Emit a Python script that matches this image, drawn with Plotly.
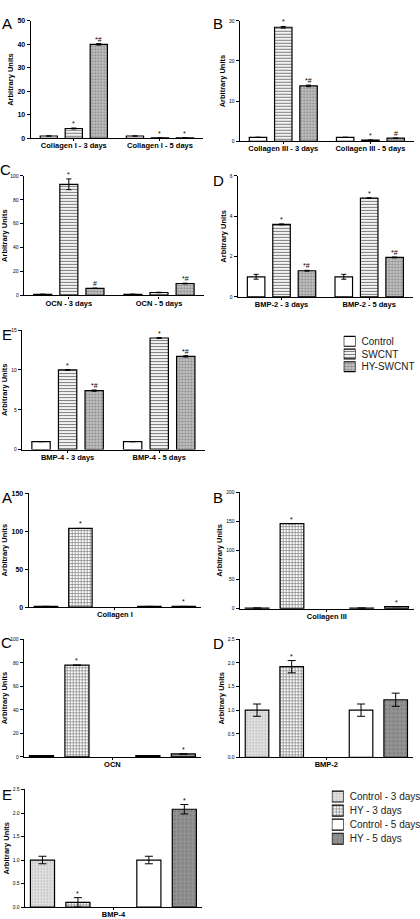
import plotly.graph_objects as go

W, H = 420, 919
FONT = "Arial, 'Liberation Sans', sans-serif"

# ================= Upper figure: Control / SWCNT / HY-SWCNT =================
upper_series = ["Control", "SWCNT", "HY-SWCNT"]

col1_cats = ["Collagen I - 3 days", "Collagen I - 5 days"]
col1_control = [1.0, 1.0]
col1_swcnt = [4.2, 0.2]
col1_hy = [40.0, 0.2]
col1_err_control = [0.0, 0.0]
col1_err_swcnt = [0.2, 0.0]
col1_err_hy = [0.3, 0.0]
col1_marks_control = ["", ""]
col1_marks_swcnt = ["*", "*"]
col1_marks_hy = ["*#", "*"]
col1_ticks = [0, 10, 20, 30, 40, 50]

col3_cats = ["Collagen III - 3 days", "Collagen III - 5 days"]
col3_control = [1.0, 1.0]
col3_swcnt = [28.4, 0.3]
col3_hy = [13.8, 0.8]
col3_err_control = [0.0, 0.0]
col3_err_swcnt = [0.2, 0.0]
col3_err_hy = [0.2, 0.0]
col3_marks_control = ["", ""]
col3_marks_swcnt = ["*", "*"]
col3_marks_hy = ["*#", "#"]
col3_ticks = [0, 10, 20, 30]

ocn_cats = ["OCN - 3 days", "OCN - 5 days"]
ocn_control = [1.0, 1.0]
ocn_swcnt = [93.0, 2.5]
ocn_hy = [6.0, 10.0]
ocn_err_control = [0.0, 0.0]
ocn_err_swcnt = [4.5, 0.2]
ocn_err_hy = [0.2, 0.3]
ocn_marks_control = ["", ""]
ocn_marks_swcnt = ["*", ""]
ocn_marks_hy = ["#", "*#"]
ocn_ticks = [0, 20, 40, 60, 80, 100]

bmp2_cats = ["BMP-2 - 3 days", "BMP-2 - 5 days"]
bmp2_control = [1.0, 1.0]
bmp2_swcnt = [3.6, 4.9]
bmp2_hy = [1.3, 1.96]
bmp2_err_control = [0.12, 0.12]
bmp2_err_swcnt = [0.02, 0.02]
bmp2_err_hy = [0.02, 0.02]
bmp2_marks_control = ["", ""]
bmp2_marks_swcnt = ["*", "*"]
bmp2_marks_hy = ["*#", "*#"]
bmp2_ticks = [0, 2, 4, 6]

bmp4_cats = ["BMP-4 - 3 days", "BMP-4 - 5 days"]
bmp4_control = [1.0, 1.0]
bmp4_swcnt = [10.0, 14.0]
bmp4_hy = [7.4, 11.7]
bmp4_err_control = [0.0, 0.0]
bmp4_err_swcnt = [0.05, 0.05]
bmp4_err_hy = [0.08, 0.08]
bmp4_marks_control = ["", ""]
bmp4_marks_swcnt = ["*", "*"]
bmp4_marks_hy = ["*#", "*#"]
bmp4_ticks = [0, 5, 10, 15]

# ================= Lower figure: Control / HY at 3 and 5 days =================
lower_series = ["Control - 3 days", "HY - 3 days", "Control - 5 days", "HY - 5 days"]

l_col1_label = "Collagen I"
l_col1_values = [1.0, 103.5, 1.0, 1.0]
l_col1_errors = [0.0, 0.0, 0.0, 0.0]
l_col1_marks = ["", "*", "", "*"]
l_col1_ticks = [0, 50, 100, 150]

l_col3_label = "Collagen III"
l_col3_values = [1.0, 146.0, 1.0, 3.5]
l_col3_errors = [0.0, 0.0, 0.0, 0.0]
l_col3_marks = ["", "*", "", "*"]
l_col3_ticks = [0, 50, 100, 150, 200]

l_ocn_label = "OCN"
l_ocn_values = [1.0, 78.0, 1.0, 2.5]
l_ocn_errors = [0.0, 0.0, 0.0, 0.0]
l_ocn_marks = ["", "*", "", "*"]
l_ocn_ticks = [0, 20, 40, 60, 80, 100]

l_bmp2_label = "BMP-2"
l_bmp2_values = [1.0, 1.92, 1.0, 1.22]
l_bmp2_errors = [0.13, 0.13, 0.13, 0.14]
l_bmp2_marks = ["", "*", "", ""]
l_bmp2_ticks = [0.0, 0.5, 1.0, 1.5, 2.0, 2.5]

l_bmp4_label = "BMP-4"
l_bmp4_values = [1.0, 0.1, 1.0, 2.08]
l_bmp4_errors = [0.08, 0.1, 0.08, 0.1]
l_bmp4_marks = ["", "*", "", "*"]
l_bmp4_ticks = [0.0, 0.5, 1.0, 1.5, 2.0, 2.5]

# ---------------- styles ----------------
OUTLINE = dict(color="black", width=1.2)
upper_styles = [
    dict(color="white", line=OUTLINE),
    dict(color="white", line=OUTLINE,
         pattern=dict(shape="-", fgcolor="black", bgcolor="white", size=3, solidity=0.4)),
    dict(color="#c4c4c4", line=OUTLINE,
         pattern=dict(shape=".", fgcolor="#474747", bgcolor="#c2c2c2", size=3, solidity=0.35)),
]
lower_styles = [
    dict(color="#e2e2e2", line=OUTLINE,
         pattern=dict(shape=".", fgcolor="#8a8a8a", bgcolor="#e6e6e6", size=3, solidity=0.35)),
    dict(color="white", line=OUTLINE,
         pattern=dict(shape="+", fgcolor="#111111", bgcolor="white", size=3, solidity=0.45)),
    dict(color="white", line=OUTLINE),
    dict(color="#8c8c8c", line=OUTLINE,
         pattern=dict(shape=".", fgcolor="#6a6a6a", bgcolor="#939393", size=4, solidity=0.3)),
]

# panel boxes in pixels: (left, right, top, bottom) of the axes
upper_panels = [
    dict(letter="A", lpos=(0, 20), cats=col1_cats,
         vals=[col1_control, col1_swcnt, col1_hy],
         errs=[col1_err_control, col1_err_swcnt, col1_err_hy],
         marks=[col1_marks_control, col1_marks_swcnt, col1_marks_hy],
         ticks=col1_ticks, bold=True, box=(31, 205, 17, 136)),
    dict(letter="B", lpos=(213, 20), cats=col3_cats,
         vals=[col3_control, col3_swcnt, col3_hy],
         errs=[col3_err_control, col3_err_swcnt, col3_err_hy],
         marks=[col3_marks_control, col3_marks_swcnt, col3_marks_hy],
         ticks=col3_ticks, bold=False, box=(242, 418, 17, 139)),
    dict(letter="C", lpos=(-2, 167), cats=ocn_cats,
         vals=[ocn_control, ocn_swcnt, ocn_hy],
         errs=[ocn_err_control, ocn_err_swcnt, ocn_err_hy],
         marks=[ocn_marks_control, ocn_marks_swcnt, ocn_marks_hy],
         ticks=ocn_ticks, bold=False, box=(24, 206, 174, 295)),
    dict(letter="D", lpos=(213, 179), cats=bmp2_cats,
         vals=[bmp2_control, bmp2_swcnt, bmp2_hy],
         errs=[bmp2_err_control, bmp2_err_swcnt, bmp2_err_hy],
         marks=[bmp2_marks_control, bmp2_marks_swcnt, bmp2_marks_hy],
         ticks=bmp2_ticks, bold=False, box=(240, 417, 174, 296.5)),
    dict(letter="E", lpos=(0, 335), cats=bmp4_cats,
         vals=[bmp4_control, bmp4_swcnt, bmp4_hy],
         errs=[bmp4_err_control, bmp4_err_swcnt, bmp4_err_hy],
         marks=[bmp4_marks_control, bmp4_marks_swcnt, bmp4_marks_hy],
         ticks=bmp4_ticks, bold=False, box=(22, 207, 330, 451)),
]

lower_panels = [
    dict(letter="A", lpos=(0, 499), label=l_col1_label, vals=l_col1_values,
         errs=l_col1_errors, marks=l_col1_marks, ticks=l_col1_ticks, bold=True,
         fmt="", box=(29, 203, 495, 610.5)),
    dict(letter="B", lpos=(213, 499), label=l_col3_label, vals=l_col3_values,
         errs=l_col3_errors, marks=l_col3_marks, ticks=l_col3_ticks, bold=False,
         fmt="", box=(242, 418, 494, 612)),
    dict(letter="C", lpos=(-1, 646), label=l_ocn_label, vals=l_ocn_values,
         errs=l_ocn_errors, marks=l_ocn_marks, ticks=l_ocn_ticks, bold=False,
         fmt="", box=(24, 203, 643, 762)),
    dict(letter="D", lpos=(213, 647), label=l_bmp2_label, vals=l_bmp2_values,
         errs=l_bmp2_errors, marks=l_bmp2_marks, ticks=l_bmp2_ticks, bold=False,
         fmt=".1f", box=(242, 417, 643, 762.5)),
    dict(letter="E", lpos=(0, 800), label=l_bmp4_label, vals=l_bmp4_values,
         errs=l_bmp4_errors, marks=l_bmp4_marks, ticks=l_bmp4_ticks, bold=False,
         fmt=".1f", box=(25, 204, 795, 914)),
]

# key boxes (swatch column) in pixels: (left, right, top, bottom)
upper_key_box = (347, 359, 335, 373.5)
lower_key_box = (335, 347, 795, 852)

fig = go.Figure()
annotations = []
layout_axes = {}

GROUP_STEP = 0.29
UP_WIDTH = 0.2
LOW_WIDTH = 0.68
LOW_POS = [0, 1, 3, 4]


def refs(i):
    xs = "xaxis" if i == 1 else f"xaxis{i}"
    ys = "yaxis" if i == 1 else f"yaxis{i}"
    xref = "x" if i == 1 else f"x{i}"
    yref = "y" if i == 1 else f"y{i}"
    return xs, ys, xref, yref


def axis_setup(i, box, ticks, bold, xticks, xtext, xrange, fmt=""):
    left, right, top, bottom = box
    xs, ys, xref, yref = refs(i)
    tick_font = dict(family=FONT, size=7 if bold else 5, color="black",
                     weight="bold" if bold else "normal")
    layout_axes[xs] = dict(
        domain=[left / W, right / W], anchor=yref, range=xrange,
        tickmode="array", tickvals=xticks, ticktext=xtext,
        ticks="outside", ticklen=2, tickwidth=1, tickcolor="black",
        ticklabelstandoff=-2,
        showline=True, linecolor="black", linewidth=1.2,
        showgrid=False, zeroline=False, fixedrange=True,
        tickfont=dict(family=FONT, size=7.5, color="black", weight="bold"),
    )
    layout_axes[ys] = dict(
        domain=[1 - bottom / H, 1 - top / H], anchor=xref,
        range=[ticks[0], ticks[-1]], tickmode="array", tickvals=ticks,
        tickformat=fmt,
        ticks="outside", ticklen=3, tickwidth=1, tickcolor="black",
        showline=True, linecolor="black", linewidth=1.2,
        showgrid=False, zeroline=False, fixedrange=True,
        tickfont=tick_font,
        title=dict(text="<b>Arbitrary Units</b>", standoff=2,
                   font=dict(family=FONT, size=7.5, color="black")),
    )
    return xref, yref


def key_setup(i, box, names, styles):
    """Key drawn as horizontal swatch bars; the series names are its tick labels."""
    left, right, top, bottom = box
    xs, ys, xref, yref = refs(i)
    n = len(names)
    layout_axes[xs] = dict(domain=[left / W, right / W], anchor=yref,
                           range=[0, 1], visible=False, fixedrange=True)
    layout_axes[ys] = dict(
        domain=[1 - bottom / H, 1 - top / H], anchor=xref, type="category",
        categoryorder="array", categoryarray=names, range=[n - 0.5, -0.5],
        tickmode="array", tickvals=names, ticktext=names,
        side="right", showline=False, showgrid=False, zeroline=False,
        ticks="", ticklabelstandoff=5, fixedrange=True,
        tickfont=dict(family=FONT, size=10, color="#222"),
    )
    for name, st in zip(names, styles):
        fig.add_trace(go.Bar(
            y=[name], x=[1], orientation="h", width=0.78, marker=st,
            xaxis=xref, yaxis=yref, showlegend=False, hoverinfo="skip",
        ))


def add_letter(letter, lpos):
    annotations.append(dict(
        text=letter, x=lpos[0] / W, y=1 - lpos[1] / H, xref="paper", yref="paper",
        xanchor="left", yanchor="middle", showarrow=False,
        font=dict(family=FONT, size=15, color="black")))


idx = 0
for p in upper_panels:
    idx += 1
    xref, yref = axis_setup(idx, p["box"], p["ticks"], p["bold"],
                            [0, 1], p["cats"], [-0.5, 1.5])
    for s, name in enumerate(upper_series):
        xs = [g + (s - 1) * GROUP_STEP for g in range(len(p["cats"]))]
        fig.add_trace(go.Bar(
            x=xs, y=p["vals"][s], width=UP_WIDTH, name=name,
            marker=upper_styles[s], xaxis=xref, yaxis=yref,
            error_y=dict(type="data", array=p["errs"][s], color="black",
                         thickness=1, width=2.5),
            showlegend=False, hoverinfo="skip",
        ))
        for xv, yv, ev, mk in zip(xs, p["vals"][s], p["errs"][s], p["marks"][s]):
            if mk:
                annotations.append(dict(
                    text=mk, x=xv, y=yv + ev, xref=xref, yref=yref,
                    xanchor="center", yanchor="bottom", showarrow=False, yshift=-1,
                    font=dict(family=FONT, size=7, color="black")))
    add_letter(p["letter"], p["lpos"])

idx += 1
key_setup(idx, upper_key_box, upper_series, upper_styles)

for p in lower_panels:
    idx += 1
    xref, yref = axis_setup(idx, p["box"], p["ticks"], p["bold"],
                            [2], [p["label"]], [-0.5, 4.5], p["fmt"])
    for s, name in enumerate(lower_series):
        fig.add_trace(go.Bar(
            x=[LOW_POS[s]], y=[p["vals"][s]], width=LOW_WIDTH, name=name,
            marker=lower_styles[s], xaxis=xref, yaxis=yref,
            error_y=dict(type="data", array=[p["errs"][s]], color="black",
                         thickness=1, width=4),
            showlegend=False, hoverinfo="skip",
        ))
        if p["marks"][s]:
            annotations.append(dict(
                text=p["marks"][s], x=LOW_POS[s], y=p["vals"][s] + p["errs"][s],
                xref=xref, yref=yref, xanchor="center", yanchor="bottom",
                showarrow=False, yshift=-1,
                font=dict(family=FONT, size=7, color="black")))
    add_letter(p["letter"], p["lpos"])

idx += 1
key_setup(idx, lower_key_box, lower_series, lower_styles)

fig.update_layout(
    width=W, height=H, margin=dict(l=0, r=0, t=0, b=0),
    paper_bgcolor="white", plot_bgcolor="white",
    barmode="overlay", showlegend=False,
    font=dict(family=FONT, color="black"),
    annotations=annotations,
    **layout_axes,
)

fig.write_html("out.html")
